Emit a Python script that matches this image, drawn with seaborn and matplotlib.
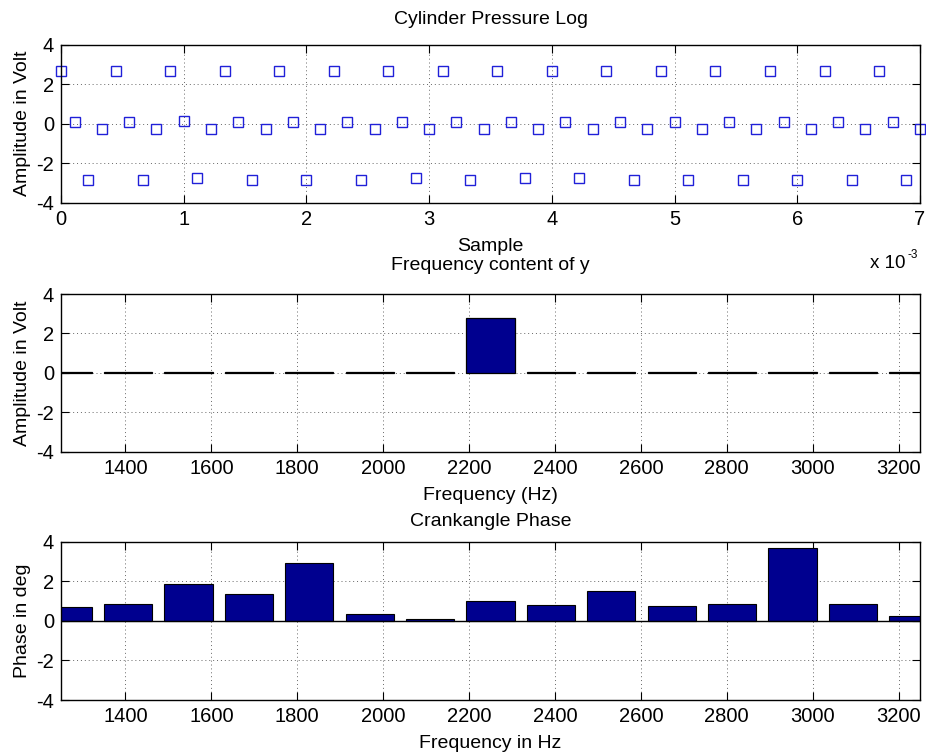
import numpy as np
import matplotlib
matplotlib.use("Agg")
import matplotlib.pyplot as plt
import seaborn as sns
from matplotlib.ticker import FuncFormatter

# ---------------- data ----------------
sample_rate_hz = 9000
signal_volts = [
    2.68, 0.10, -2.84, -0.27, 2.68, 0.10, -2.84, -0.27,
    2.68, 0.12, -2.77, -0.27, 2.68, 0.10, -2.84, -0.27,
    2.68, 0.10, -2.85, -0.27, 2.68, 0.10, -2.84, -0.27,
    2.68, 0.10, -2.77, -0.27, 2.68, 0.10, -2.84, -0.27,
    2.68, 0.10, -2.77, -0.27, 2.68, 0.10, -2.77, -0.27,
    2.68, 0.10, -2.84, -0.27, 2.68, 0.10, -2.84, -0.27,
    2.68, 0.10, -2.84, -0.27, 2.68, 0.10, -2.85, -0.27,
    2.68, 0.10, -2.84, -0.27, 2.68, 0.10, -2.84, -0.27,
]
bin_freqs_hz = [1265.6, 1406.3, 1546.9, 1687.5, 1828.1, 1968.8, 2109.4, 2250.0,
                2390.6, 2531.3, 2671.9, 2812.5, 2953.1, 3093.8, 3234.4]
amplitude_volts = [0.04, 0.03, 0.03, 0.04, 0.03, 0.04, 0.05, 2.78,
                   0.05, 0.04, 0.03, 0.03, 0.03, 0.03, 0.03]
phase_values = [0.68, 0.86, 1.84, 1.37, 2.93, 0.36, 0.07, 1.02,
                0.78, 1.49, 0.73, 0.86, 3.66, 0.86, 0.26]

time_ticks_ms = [0, 1, 2, 3, 4, 5, 6, 7]
freq_ticks = [1400, 1600, 1800, 2000, 2200, 2400, 2600, 2800, 3000, 3200]
y_ticks = [-4, -2, 0, 2, 4]

# ---------------- style ----------------
sns.set_theme(style="ticks")
plt.rcParams["font.family"] = ["Liberation Sans", "DejaVu Sans"]
plt.rcParams["axes.unicode_minus"] = False
plt.rcParams["axes.edgecolor"] = "black"
plt.rcParams["axes.linewidth"] = 1.0
plt.rcParams["text.color"] = "black"
plt.rcParams["axes.labelcolor"] = "black"

W, H = 926, 753
fig = plt.figure(figsize=(W / 100, H / 100), dpi=100)


def axes_px(left, top, right, bottom):
    return fig.add_axes([left / W, 1 - bottom / H, (right - left) / W, (bottom - top) / H])


ax1 = axes_px(61, 44.5, 920, 202.7)
ax2 = axes_px(61, 294, 920, 451.7)
ax3 = axes_px(61, 541.7, 920, 700)

BAR_COLOR = "#00008f"

# top: samples
t = np.arange(len(signal_volts)) / sample_rate_hz
sns.lineplot(x=t, y=signal_volts, ax=ax1, marker="s", linestyle="",
             markerfacecolor="none", markeredgecolor="#2020d8",
             markeredgewidth=1.0, markersize=7.5, clip_on=False, zorder=5)
ax1.set_xlim(0, 0.007)
ax1.set_xticks([v / 1000 for v in time_ticks_ms])
ax1.xaxis.set_major_formatter(FuncFormatter(lambda v, p: f"{v * 1000:g}"))

# middle: amplitude spectrum
sns.barplot(x=bin_freqs_hz, y=amplitude_volts, ax=ax2, native_scale=True,
            orient="x", width=0.8, color=BAR_COLOR, saturation=1,
            edgecolor="black", linewidth=0.9, errorbar=None)

# bottom: phase
sns.barplot(x=bin_freqs_hz, y=phase_values, ax=ax3, native_scale=True,
            orient="x", width=0.8, color=BAR_COLOR, saturation=1,
            edgecolor="black", linewidth=0.8, errorbar=None)
ax3.axhline(0, color="black", linewidth=1.0, zorder=3)

for ax in (ax2, ax3):
    ax.set_xlim(1250, 3250)
    ax.set_xticks(freq_ticks)

for ax in (ax1, ax2, ax3):
    ax.set_ylim(-4, 4)
    ax.set_yticks(y_ticks)
    ax.set_axisbelow(True)
    ax.grid(True, linestyle=(0, (1, 3)), color="black", linewidth=0.7, alpha=0.6)
    ax.tick_params(direction="in", length=6, width=0.8, top=True, right=True,
                   labelsize=14.5, pad=5, colors="black")
    for s in ax.spines.values():
        s.set_visible(True)
        s.set_color("black")
        s.set_linewidth(1.0)
        s.set_zorder(6)

ax1.set_title("Cylinder Pressure Log", fontsize=14, pad=14.5)
ax1.set_xlabel("Sample", fontsize=14, labelpad=6.5)
ax1.set_ylabel("Amplitude in Volt", fontsize=14, labelpad=4)

ax2.set_title("Frequency content of y", fontsize=14, pad=17.5)
ax2.set_xlabel("Frequency (Hz)", fontsize=14, labelpad=6.5)
ax2.set_ylabel("Amplitude in Volt", fontsize=14, labelpad=4)

ax3.set_title("Crankangle Phase", fontsize=14, pad=11)
ax3.set_xlabel("Frequency in Hz", fontsize=14, labelpad=6.5)
ax3.set_ylabel("Phase in deg", fontsize=14, labelpad=4)

# exponent marker of the top time axis
fig.text(870 / W, 1 - 268 / H, "x 10", fontsize=13.5, ha="left", va="baseline")
fig.text(908 / W, 1 - 258 / H, "-3", fontsize=8.5, ha="left", va="baseline")

fig.savefig("out.png", dpi=100)
